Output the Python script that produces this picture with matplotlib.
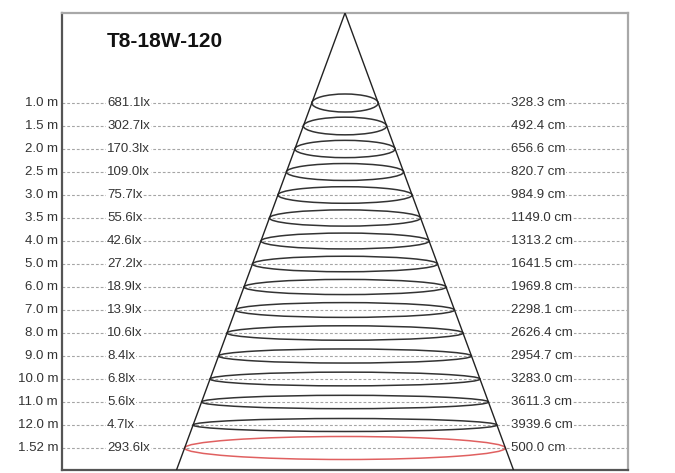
import matplotlib
matplotlib.use("Agg")
import matplotlib.pyplot as plt
from matplotlib.patches import Ellipse

title = "T8-18W-120"
distances = ["1.0 m", "1.5 m", "2.0 m", "2.5 m", "3.0 m", "3.5 m", "4.0 m", "5.0 m",
             "6.0 m", "7.0 m", "8.0 m", "9.0 m", "10.0 m", "11.0 m", "12.0 m", "1.52 m"]
lux = [681.1, 302.7, 170.3, 109.0, 75.7, 55.6, 42.6, 27.2, 18.9, 13.9, 10.6, 8.4,
       6.8, 5.6, 4.7, 293.6]
diam_cm = [328.3, 492.4, 656.6, 820.7, 984.9, 1149.0, 1313.2, 1641.5, 1969.8, 2298.1,
           2626.4, 2954.7, 3283.0, 3611.3, 3939.6, 500.0]
highlight = [False] * 15 + [True]

W, H = 675, 473
fig = plt.figure(figsize=(W / 100, H / 100), dpi=100)
ax_l, ax_r, ax_t, ax_b = 62, 628, 13, 470
ax = fig.add_axes([ax_l / W, 1 - ax_b / H, (ax_r - ax_l) / W, (ax_b - ax_t) / H])

row0_px, row_step = 103, 23.0
ytop = (ax_t - row0_px) / row_step
ybot = (ax_b - row0_px) / row_step
half = (ax_r - ax_l) / 2
ax.set_xlim(-half, half)
ax.set_ylim(ybot, ytop)
ax.set_xticks([])
ax.set_yticks([])
for s in ("left", "bottom"):
    ax.spines[s].set_color("#555555")
    ax.spines[s].set_linewidth(1.6)
for s in ("top", "right"):
    ax.spines[s].set_color("#a8a8a8")
    ax.spines[s].set_linewidth(1.6)

base_half = 168.5
def hw(r):
    return base_half * (r - ytop) / (ybot - ytop)

# dashed guide lines
n = len(distances)
for i in range(n):
    ax.plot([-half, half], [i, i], color="#a5a5a5", lw=0.8, ls=(0, (2.5, 1.8)), zorder=1)

# cone
ax.plot([-base_half, 0, base_half], [ybot, ytop, ybot], color="#222222", lw=1.0, zorder=3)

# ellipses
for i in range(n):
    w = 2 * hw(i)
    if highlight[i]:
        h = 23 / row_step
        col = "#e06060"
    else:
        h = (18 - 5 * i / 14) / row_step
        col = "#333333"
    e = Ellipse((0, i), w, h, fill=False, ec=col, lw=1.1, zorder=2)
    ax.add_patch(e)

font = "Liberation Sans"
box = dict(facecolor="white", edgecolor="none", pad=0.8)
for i in range(n):
    ax.text(58 - 345, i, distances[i], ha="right", va="center", fontsize=9.5,
            family=font, color="#333333", clip_on=False)
    ax.text(107 - 345, i, f"{lux[i]:.1f}lx", ha="left", va="center", fontsize=9.5,
            family=font, color="#333333", bbox=box, zorder=4)
    ax.text(511 - 345, i, f"{diam_cm[i]:.1f} cm", ha="left", va="center", fontsize=9.5,
            family=font, color="#333333", bbox=box, zorder=4)

ax.text(107 - 345, (41 - row0_px) / row_step, title, ha="left", va="center",
        fontsize=15, fontweight="bold", family=font, color="#111111")

fig.savefig("out.png", dpi=100)
